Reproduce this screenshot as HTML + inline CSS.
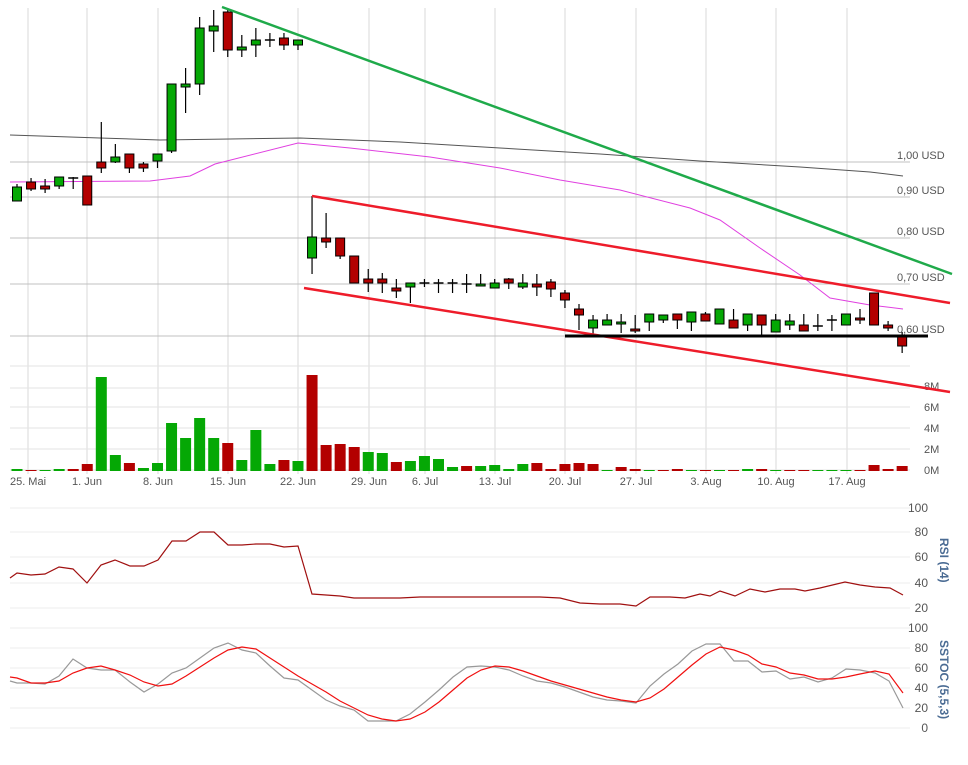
<!DOCTYPE html>
<html><head><meta charset="utf-8"><style>
body{margin:0;background:#fff;}
svg{display:block;font-family:"Liberation Sans",sans-serif;}
</style></head><body>
<svg id="s" width="968" height="765" xmlns="http://www.w3.org/2000/svg">
<g id="grid"></g>
<g font-size="11" fill="#555">
<text x="897" y="159">1,00 USD</text>
<text x="897" y="194">0,90 USD</text>
<text x="897" y="235">0,80 USD</text>
<text x="897" y="281">0,70 USD</text>
<text x="897" y="333">0,60 USD</text>
<text x="924" y="390">8M</text>
<text x="924" y="411">6M</text>
<text x="924" y="432">4M</text>
<text x="924" y="453">2M</text>
<text x="924" y="474">0M</text>
</g>
<g font-size="11" fill="#555" text-anchor="middle">
<text x="28" y="485">25. Mai</text><text x="87" y="485">1. Jun</text><text x="158" y="485">8. Jun</text>
<text x="228" y="485">15. Jun</text><text x="298" y="485">22. Jun</text><text x="369" y="485">29. Jun</text>
<text x="425" y="485">6. Jul</text><text x="495" y="485">13. Jul</text><text x="565" y="485">20. Jul</text>
<text x="636" y="485">27. Jul</text><text x="706" y="485">3. Aug</text><text x="776" y="485">10. Aug</text>
<text x="847" y="485">17. Aug</text>
</g>
<g font-size="12" fill="#555" text-anchor="end">
<text x="928" y="512">100</text><text x="928" y="536">80</text><text x="928" y="561">60</text><text x="928" y="587">40</text><text x="928" y="612">20</text>
<text x="928" y="632">100</text><text x="928" y="652">80</text><text x="928" y="672">60</text><text x="928" y="692">40</text><text x="928" y="712">20</text><text x="928" y="732">0</text>
</g>
<g font-size="12" font-weight="bold" fill="#4a6b93">
<text transform="translate(940,538) rotate(90)">RSI (14)</text>
<text transform="translate(940,640) rotate(90)">SSTOC (5,5,3)</text>
</g>
<g id="plot"></g>
</svg>
<script>
const NS="http://www.w3.org/2000/svg";
function el(p,t,a){const e=document.createElementNS(NS,t);for(const k in a)e.setAttribute(k,a[k]);p.appendChild(e);return e;}
const G=document.getElementById('grid'),P=document.getElementById('plot');
[28,87,158,228,298,369,425,495,565,636,706,776,847].forEach(x=>el(G,'line',{x1:x,x2:x,y1:8,y2:474,stroke:'#ececec','stroke-width':2}));
[162,197,238,284,336].forEach(y=>el(G,'line',{x1:10,x2:910,y1:y,y2:y,stroke:'#c0c0c0'}));
[366,388,407,428,449,470].forEach(y=>el(G,'line',{x1:10,x2:910,y1:y,y2:y,stroke:'#e3e3e3'}));
[508,532,557,583,608].forEach(y=>el(G,'line',{x1:10,x2:910,y1:y,y2:y,stroke:'#ededed'}));
[628,648,668,688,708,728].forEach(y=>el(G,'line',{x1:10,x2:910,y1:y,y2:y,stroke:'#ededed'}));
function pl(pts,c,w){el(P,'polyline',{points:pts.map(p=>p.join(',')).join(' '),fill:'none',stroke:c,'stroke-width':w});}
// MAs
pl([[10,135],[100,138],[160,140],[230,139],[300,138],[400,142],[500,148],[600,154],[700,161],[800,167],[870,172],[903,176]],'#555',1);
pl([[10,182],[150,181],[190,176],[215,164],[298,143],[350,148],[430,157],[500,168],[560,180],[620,190],[690,208],[720,220],[760,248],[800,275],[830,298],[870,305],[903,309]],'#e040e0',1);
// volume
const X=i=>17+14.05*i;
const vol=[[2,1],[1,0],[1,1],[2,1],[2,0],[7,0],[94,1],[16,1],[8,0],[3,1],[8,1],[48,1],[33,1],[53,1],[33,1],[28,0],[11,1],[41,1],[7,1],[11,0],[10,1],[96,0],[26,0],[27,0],[24,0],[19,1],[18,1],[9,0],[10,1],[15,1],[12,1],[4,1],[5,0],[5,1],[6,1],[2,1],[7,1],[8,0],[2,0],[7,0],[8,0],[7,0],[1,1],[4,0],[2,0],[1,1],[1,0],[2,0],[1,1],[1,0],[1,1],[1,0],[2,1],[2,0],[1,1],[1,0],[1,0],[1,1],[1,1],[1,1],[1,0],[6,0],[2,0],[5,0]];
vol.forEach((v,i)=>el(P,'rect',{x:X(i)-5.5,y:471-v[0],width:11,height:v[0],fill:v[1]?'#05a805':'#b30000'}));
// candles [bodyTop,bodyBot,wickTop,wickBot,green]
const C=[[187,201,184,201,1],[182,189,178,191,0],[186,189,179,193,0],[177,186,177,189,1],[178,178,177,189,1],[176,205,176,205,0],[162,168,122,173,0],[157,162,144,163,1],[154,168,154,173,0],[164,168,162,172,0],[154,161,154,168,1],[84,151,84,153,1],[84,87,68,113,1],[28,84,17,95,1],[26,31,10,52,1],[12,50,10,57,0],[47,50,35,57,1],[40,45,28,57,1],[40,40,33,47,1],[38,45,33,50,0],[40,45,40,50,1],
[237,258,196,274,1],[238,242,213,248,0],[238,256,238,259,0],[256,283,256,283,0],[279,283,269,292,0],[279,283,273,293,0],[288,291,279,298,0],[283,287,283,303,1],[283,283,279,287,1],[283,283,279,293,1],[283,283,279,293,1],[284,284,274,293,1],[284,286,274,286,1],[283,288,279,288,1],[279,283,278,289,0],[283,287,274,289,1],[284,287,274,296,0],[282,289,279,297,0],[293,300,290,308,0],[309,315,304,330,0],[320,328,315,334,1],[320,325,314,325,1],[322,324,314,333,1],[329,331,315,333,0],[314,322,314,331,1],[315,320,315,323,1],[314,320,314,329,0],[312,322,312,331,1],[314,321,312,321,0],[309,324,309,324,1],[320,328,309,328,0],[314,325,314,331,1],[315,325,315,335,0],[320,332,314,332,1],[321,325,314,330,1],[325,331,314,331,0],[326,326,314,331,1],[320,320,315,331,1],[314,325,314,325,1],[318,320,309,324,0],[293,325,293,325,0],[325,328,321,331,0],[337,346,332,353,0]];
C.forEach((c,i)=>{const x=X(i);el(P,'line',{x1:x,x2:x,y1:c[2],y2:c[3],stroke:'#000','stroke-width':1.2});
 if(c[1]-c[0]<1){el(P,'line',{x1:x-5,x2:x+5,y1:c[0],y2:c[0],stroke:'#000','stroke-width':1.5});}
 else el(P,'rect',{x:x-4.5,y:c[0],width:9,height:c[1]-c[0],fill:c[4]?'#05a805':'#b30000',stroke:'#000','stroke-width':1});});
// trend lines
el(P,'line',{x1:222,y1:7,x2:952,y2:274,stroke:'#1faa4a','stroke-width':2.5});
el(P,'line',{x1:312,y1:196,x2:950,y2:303,stroke:'#ee1c2a','stroke-width':2.5});
el(P,'line',{x1:304,y1:288,x2:950,y2:392,stroke:'#ee1c2a','stroke-width':2.5});
el(P,'line',{x1:565,y1:336,x2:928,y2:336,stroke:'#000','stroke-width':3});
// RSI
pl([[10,578],[17,573],[31,575],[45,574],[59,567],[73,569],[87,583],[101,565],[115,560],[130,566],[144,566],[158,560],[172,541],[186,541],[200,532],[214,532],[228,545],[242,545],[256,544],[270,544],[284,547],[298,546],[312,594],[326,595],[340,596],[354,598],[400,598],[420,597],[540,597],[560,598],[580,603],[600,604],[620,604],[636,606],[650,597],[670,597],[685,598],[700,594],[710,596],[720,591],[735,596],[750,589],[765,592],[780,589],[795,589],[805,591],[820,588],[845,582],[860,585],[875,587],[890,588],[903,595]],'#a01010',1.2);
// SSTOC
const xs=[10,17,31,45,59,73,87,101,115,130,144,158,172,186,200,214,228,242,256,270,284,298,312,326,340,354,368,382,396,410,425,439,453,467,481,495,509,523,537,551,565,579,593,607,621,636,650,664,678,692,706,720,734,748,762,776,790,804,818,832,846,860,875,889,903];
const gr=[47,45,45,44,52,69,60,58,58,46,36,44,55,60,70,80,85,78,75,62,50,48,38,28,22,18,7,7,7,14,26,38,51,61,62,61,58,52,47,45,41,36,31,28,27,25,42,54,64,77,84,84,67,67,56,57,49,51,46,50,59,58,55,47,20];
const rd=[51,50,45,45,47,55,60,62,58,53,46,42,44,52,61,70,78,81,79,70,61,52,44,36,27,20,13,9,7,9,16,26,38,50,58,62,61,57,52,47,43,39,35,31,28,26,30,39,51,63,74,81,78,73,64,61,55,53,49,49,51,54,57,54,35];
pl(xs.map((x,i)=>[x,728-gr[i]]),'#999',1.2);
pl(xs.map((x,i)=>[x,728-rd[i]]),'#f01010',1.2);
</script>
</body></html>
